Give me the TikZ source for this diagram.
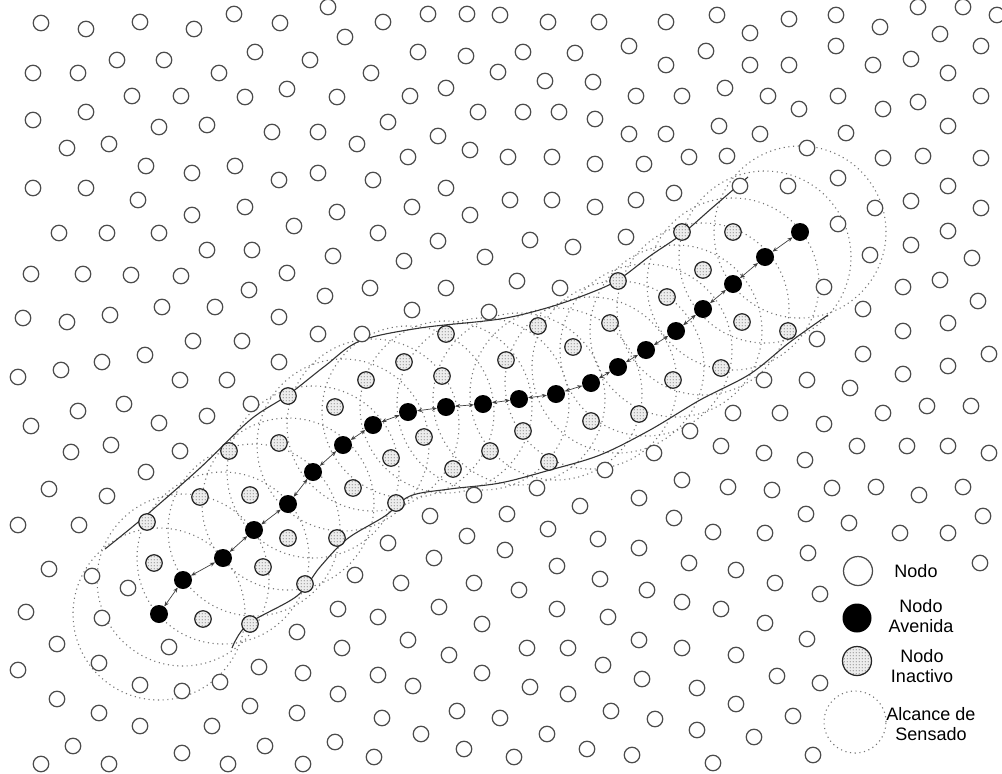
\documentclass[tikz,border=0pt]{standalone}
\usepackage{fontspec}
\setmainfont{Liberation Sans}
\usetikzlibrary{arrows.meta,patterns}
\pgfdeclarepatternformonly{stipple}{\pgfpointorigin}{\pgfpoint{3pt}{3pt}}{\pgfpoint{3pt}{3pt}}{\pgfpathcircle{\pgfpoint{1.5pt}{1.5pt}}{0.6pt}\pgfusepath{fill}}
\def\blacklist{159/614,183/580,223/558,254/530,288/504,313/472,343/445,373/425,408/412,446/407,483/404,519/399,556/394,591/383,618/367,646/350,676/331,703/309,733/284,765/257,800/232}
\def\graylist{682/232,733/232,703/270,667/297,742/322,788/331,721/368,673/380,618/281,538/326,610/323,573/347,506/360,639/414,591/421,523/431,549/462,446/334,404/362,366/380,442/376,288/396,335/407,279/443,424/437,391/458,490/451,453/469,353/488,396/503,250/495,229/451,200/497,147/522,154/563,203/619,250/624,288/538,337/538,263/567,305/584}
\def\whitelistA{41/23,86/29,140/22,194/29,234/14,33/73,78/73,117/60,164/60,219/73,132/96,181/96,245/97,33/120,86/112,159/127,207/125,67/148,109/144,146/166,192/173,235/166,33/188,86/188,138/200,192/215,245/207,59/233,107/233,159/233,207/250,252/250,255/52,328/7,280/23,383/22,428/14,467/14,500/15,345/37,310/60,418/52,466/56,498/72,371/73,287/89,337/97,410/96,446/88,478/112,272/132,318/132,357/144,388/122,438/136,408/157,470/150,279/180,318/173,373/180,446/188,337/212,412/207,470/215,294/226,378/233,438/241,333/256,404/261,485/257}
\def\whitelistB{548/22,599/22,666/22,717/15,750/33,523/52,575/53,629/46,666/65,706/51,750/65,545/81,593/82,636/96,682/96,725/88,523/112,559/112,595/119,629/134,666/134,719/126,508/157,552/157,595/164,644/164,689/157,727/156,510/200,552/200,595/207,636/200,674/193,740/186,530/240,573/247,626/237,789/19,836/15,880/27,918/7,963/7,997/15,836/46,789/65,873/65,911/59,940/34,981/46,948/73,768/96,799/109,838/96,883/109,918/102,981/96,760/134,846/133,948/126,807/148,883/158,923/156,981/158,788/186,838/178,911/201,948/186,875/208,981/208,838/224,911/245,948/231,870/255,972/258}
\def\whitelistC{31/274,83/274,131/275,181/276,249/290,23/318,67/322,110/315,162/307,215/307,193/341,242/341,18/377,61/370,102/362,145/355,180/380,227/380,251/404,78/411,124/404,159/423,207/416,31/426,71/452,111/445,180/451,146/472,49/489,107/496,287/273,325/296,370/288,446/288,412/310,489/312,279/317,318/334,362/334,279/362,474/495,430/516,517/281,560/288,733/413,690/431,721/446,654/453,605/470,682/480,728/487,537/488,639/498,580/506,507/514,674/518}
\def\whitelistD{824/287,903/287,940/280,978/301,863/309,817/339,903/331,948/323,863/354,989/354,948/366,903/374,764/380,807/380,850/388,780/413,824/424,883/413,927/406,971/406,764/453,805/460,857/446,907/446,948/446,989/453,772/490,832/488,876/487,919/495,963/487,806/514,983/516}
\def\whitelistE{18/525,79/525,49/569,92/576,128/588,26/612,102/618,57/644,18/670,99/663,169/647,140/685,182/691,220/682,250/706,57/699,99/713,140/726,212/726,73/746,41/764,109/764,182/753,228/764,467/536,388/543,505/550,434/558,355/575,401/583,474/583,338/609,378/617,439/607,482/624,297/632,342/648,408/640,449/655,259/667,303/673,378/675,482/673,413/686,338/694,297/713,382/718,457/711,500/718,421/734,265/746,335/742,374/757,464/749,303/764}
\def\whitelistF{548/529,598/539,639/548,713/532,557/566,600/579,647/590,689/563,736/570,519/590,557/609,608/617,682/602,721/609,527/648,568/648,603/665,639/640,682/648,736/655,530/687,568/694,611/711,642/679,655/719,697/688,736/704,547/734,587/749,632/755,697/730,514/757,713/763,754/737,765/533,849/523,900/533,948/533,808/553,980/563,775/583,820/594,765/623,807/639,777/676,820/683,793/716,813/755}
\tikzset{
  wnode/.style={circle, draw=black!70, line width=1.25pt, fill=white, minimum size=15.5pt, inner sep=0pt},
  bnode/.style={circle, fill=black, minimum size=18pt, inner sep=0pt},
  gnode/.style={circle, draw=black!85, line width=1.25pt, preaction={fill=black!7}, pattern=stipple, pattern color=black!80, minimum size=16.5pt, inner sep=0pt},
  sense/.style={draw=black!55, line width=1.1pt, dash pattern=on 1.1pt off 3.6pt},
  link/.style={draw=black!75, line width=0.7pt, {Stealth[length=5pt,width=4pt]}-{Stealth[length=5pt,width=4pt]}},
  env/.style={draw=black!80, line width=1.1pt},
  legtext/.style={align=center, font=\fontsize{18}{20}\selectfont, inner sep=0pt}
}
\begin{document}
\begin{tikzpicture}[x=1pt,y=-1pt]
\useasboundingbox (0,0) rectangle (1002,774);
\fill[white] (0,0) rectangle (1002,774);
% centres of avenue nodes
\foreach \x/\y [count=\k] in \blacklist { \coordinate (p\k) at (\x,\y); }
% sensing ranges
\foreach \k in {1,...,21} { \draw[sense] (p\k) circle (86pt); }
% envelope
\draw[env] plot[smooth, tension=0.55] coordinates {(105,549) (143,518) (200,468) (250,420) (288,395) (325,366) (360,341) (420,328) (500,319) (550,307) (590,293) (618,280) (650,256) (682,234) (712,208) (748,177)};
\draw[env] plot[smooth, tension=0.55] coordinates {(232,648) (248,624) (297,596) (320,567) (347,539) (385,516) (410,496) (450,489) (500,483) (550,470) (600,455) (650,430) (700,400) (750,374) (790,342) (828,315)};
% nodes
\foreach \x/\y [count=\k] in \whitelistA { \node[wnode] (wa\k) at (\x,\y) {}; }
\foreach \x/\y [count=\k] in \whitelistB { \node[wnode] (wb\k) at (\x,\y) {}; }
\foreach \x/\y [count=\k] in \whitelistC { \node[wnode] (wc\k) at (\x,\y) {}; }
\foreach \x/\y [count=\k] in \whitelistD { \node[wnode] (wd\k) at (\x,\y) {}; }
\foreach \x/\y [count=\k] in \whitelistE { \node[wnode] (we\k) at (\x,\y) {}; }
\foreach \x/\y [count=\k] in \whitelistF { \node[wnode] (wf\k) at (\x,\y) {}; }
\foreach \x/\y [count=\k] in \graylist { \node[gnode] (g\k) at (\x,\y) {}; }
\foreach \k in {1,...,21} { \node[bnode] (a\k) at (p\k) {}; }
\foreach \k [evaluate=\k as \j using int(\k+1)] in {1,...,20} { \draw[link] (a\k) -- (a\j); }
% legend
\node[wnode, minimum size=29pt] (lw) at (858,571) {};
\node[bnode, minimum size=29pt] (lb) at (857,618) {};
\node[gnode, minimum size=29pt] (lg) at (857,661) {};
\node[circle, sense, minimum size=62pt, inner sep=0pt] (ls) at (855,722) {};
\node[legtext] (tw) at (916,571) {Nodo};
\node[legtext] (tb) at (921,616) {Nodo\\Avenida};
\node[legtext] (tg) at (922,666) {Nodo\\Inactivo};
\node[legtext] (ts) at (931,724) {Alcance de\\Sensado};
\end{tikzpicture}
\end{document}
